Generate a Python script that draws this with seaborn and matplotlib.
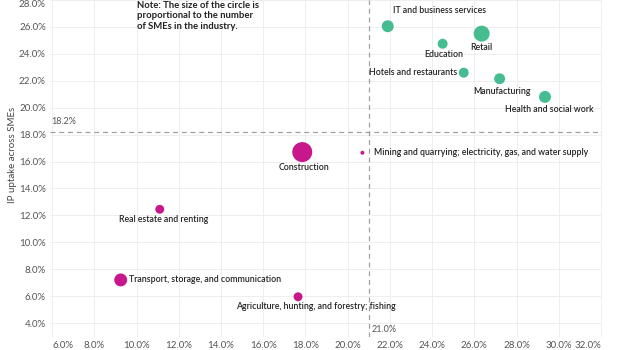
import seaborn as sns
import pandas as pd
import numpy as np
import matplotlib.pyplot as plt
from matplotlib.ticker import FuncFormatter

industries = ['IT and business services', 'Education', 'Retail', 'Hotels and restaurants',
              'Manufacturing', 'Health and social work', 'Construction',
              'Mining and quarrying; electricity, gas, and water supply',
              'Real estate and renting', 'Transport, storage, and communication',
              'Agriculture, hunting, and forestry; fishing']
x_share = [21.9, 24.5, 26.35, 25.5, 27.2, 29.35, 17.85, 20.7, 11.1, 9.25, 17.65]
ip_uptake = [26.05, 24.75, 25.5, 22.6, 22.15, 20.8, 16.7, 16.65, 12.45, 7.2, 5.95]
n_smes = [36, 25, 64, 25, 30, 36, 100, 4, 20, 42, 20]
group = ['high'] * 6 + ['low'] * 5
avg_x = 21.0
avg_y = 18.2

# label offsets (points) and alignment
offsets = [(4, 11, 'left'), (1, -8, 'center'), (0, -10, 'center'), (-5, 0, 'right'),
           (2, -9, 'center'), (3, -9, 'center'), (1, -11, 'center'), (8, 0, 'left'),
           (3, -7, 'center'), (6, 0, 'left'), (13, -7, 'center')]

df = pd.DataFrame({'industry': industries, 'x': x_share, 'y': ip_uptake,
                   'smes': n_smes, 'group': group})

sns.set_style('white')
plt.rcParams['font.family'] = ['Lato', 'DejaVu Sans']

fig = plt.figure(figsize=(6.2, 3.5), dpi=100)
ax = fig.add_axes([50 / 620, 13 / 350, 552 / 620, 337 / 350])

ax.grid(True, color='#eeeeee', linewidth=0.7)
ax.set_axisbelow(True)

sns.scatterplot(data=df, x='x', y='y', hue='group', size='smes',
                palette={'high': '#45bd91', 'low': '#c8178a'},
                sizes=(8, 207), size_norm=(4, 100), linewidth=0,
                legend=False, ax=ax, zorder=3)

ax.axhline(avg_y, color='#a0a0a0', linestyle=(0, (4, 3)), linewidth=0.9, zorder=2)
ax.axvline(avg_x, color='#a0a0a0', linestyle=(0, (4, 3)), linewidth=0.9, zorder=2)

for name, xv, yv, (dx, dy, ha) in zip(industries, x_share, ip_uptake, offsets):
    ax.annotate(name, (xv, yv), xytext=(dx, dy), textcoords='offset points',
                ha=ha, va='center', fontsize=6.3, color='#222222', fontweight='semibold')

ax.annotate(f'{avg_y:.1f}%', (5.95, avg_y), xytext=(0, 4), textcoords='offset points',
            ha='left', va='bottom', fontsize=6.5, color='#555555')
ax.annotate(f'{avg_x:.1f}%', (avg_x, 3.55), xytext=(2, 0), textcoords='offset points',
            ha='left', va='center', fontsize=6.5, color='#555555')

ax.set_xlim(5.9, 32.05)
ax.set_ylim(2.96, 28.0)
pct = FuncFormatter(lambda v, p: f'{v:.1f}%')
ax.xaxis.set_major_formatter(pct)
ax.yaxis.set_major_formatter(pct)
ax.set_xticks(np.arange(6, 33, 2))
ax.set_yticks(np.arange(4, 29, 2))
ax.tick_params(length=0, labelsize=7, labelcolor='#555555', pad=3)
xt = ax.get_xticklabels()
xt[0].set_ha('left')
xt[-1].set_ha('right')
yt = ax.get_yticklabels()
yt[-1].set_va('top')
ax.set_xlabel('')
ax.set_ylabel('IP uptake across SMEs', fontsize=7, color='#444444')
ax.yaxis.set_label_coords(-0.06, 0.54)
sns.despine(ax=ax, left=True, bottom=True)

fig.text(137 / 620, 1 - 1 / 350,
         'Note: The size of the circle is\nproportional to the number\nof SMEs in the industry.',
         ha='left', va='top', fontsize=6.8, fontweight='bold', color='#222222', linespacing=1.2)

fig.savefig('out.png', dpi=100)
